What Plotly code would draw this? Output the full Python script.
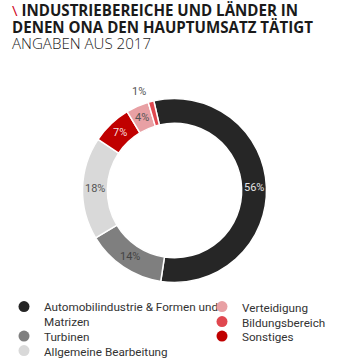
import math
import plotly.graph_objects as go

W, H = 347, 361

categories = ["Automobilindustrie & Formen und<br>Matrizen", "Turbinen", "Allgemeine Bearbeitung",
              "Sonstiges", "Verteidigung", "Bildungsbereich"]
values = [56, 14, 18, 7, 4, 1]
colors = ["#262626", "#7f7f7f", "#d9d9d9", "#c00000", "#e8a0a4", "#e0474f"]
text_colors = ["#e4e4e4", "#444444", "#555555", "#f6dede", "#555555", "#555555"]
label_outside = [False, False, False, False, False, True]

legend_order_left = [0, 1, 2]
legend_order_right = [4, 5, 3]

FONT = "Roboto"
TITLE_FONT = "Open Sans"

def px_x(x):
    return x / W

def px_y(y):
    return 1 - y / H

cx, cy, R = 174.5, 190.5, 92
HOLE = 0.73
ROTATION = -13

fig = go.Figure()
fig.add_trace(go.Pie(
    labels=categories, values=values, sort=False, direction="clockwise", rotation=ROTATION,
    hole=HOLE,
    marker=dict(colors=colors, line=dict(color="white", width=1.5)),
    textinfo="none",
    showlegend=False,
    domain=dict(x=[px_x(cx - R), px_x(cx + R)], y=[px_y(cy + R), px_y(cy - R)]),
))

annotations = []
# slice value labels placed at each slice's mid-angle (computed from the data)
total = sum(values)
cum = 0
for v, tc, outside in zip(values, text_colors, label_outside):
    mid = math.radians(ROTATION + 360 * (cum + v / 2) / total)
    cum += v
    r = R + 10 if outside else R * (1 + HOLE) / 2
    x = cx + r * math.sin(mid)
    y = cy - r * math.cos(mid)
    annotations.append(dict(
        text=f"{v}%", x=px_x(x), y=px_y(y), xref="paper", yref="paper",
        xanchor=("right" if outside and math.sin(mid) < 0 else ("left" if outside else "center")),
        yanchor="middle", showarrow=False,
        font=dict(family=FONT, size=11, color=tc),
    ))

# legend entries (one legend per entry so spacing matches the reference)
legend_pos = {}
left_rows = [307, 336.5, 351]
right_rows = [307, 322, 336.5]
for i, row in zip(legend_order_left, left_rows):
    legend_pos[i] = (4, row)
for i, row in zip(legend_order_right, right_rows):
    legend_pos[i] = (202, row)

layout_legends = {}
for k in range(len(categories)):
    name = "legend" if k == 0 else f"legend{k + 1}"
    fig.add_trace(go.Scatter(
        x=[None], y=[None], mode="markers", name=categories[k],
        marker=dict(color=colors[k], size=11, symbol="circle"),
        legend=name, showlegend=True, hoverinfo="skip",
    ))
    lx, ly = legend_pos[k]
    layout_legends[name] = dict(
        x=px_x(lx), y=px_y(ly - 14.5), xanchor="left", yanchor="top",
        bgcolor="rgba(255,255,255,0)", borderwidth=0, valign="top",
        font=dict(family=FONT, size=11.7, color="#333333"),
        itemclick=False, itemdoubleclick=False,
    )

title_lines = [
    ('<span style="color:#d0021b">\\</span> <b>INDUSTRIEBEREICHE UND LÄNDER IN</b>', 10.3, 400),
    ("<b>DENEN ONA DEN HAUPTUMSATZ TÄTIGT</b>", 26.6, 400),
    ("ANGABEN AUS 2017", 43.5, 300),
]
for txt, y, wt in title_lines:
    annotations.append(dict(
        text=txt, x=px_x(10.5), y=px_y(y), xref="paper", yref="paper",
        xanchor="left", yanchor="middle", showarrow=False, borderpad=0,
        font=dict(family=TITLE_FONT, size=15.1, color="#1a1a1a", weight=wt),
    ))

fig.update_layout(
    width=W, height=H, margin=dict(l=0, r=0, t=0, b=0, autoexpand=False),
    paper_bgcolor="white", plot_bgcolor="white",
    xaxis=dict(visible=False), yaxis=dict(visible=False),
    annotations=annotations,
    **layout_legends,
)

fig.write_html("out.html")
